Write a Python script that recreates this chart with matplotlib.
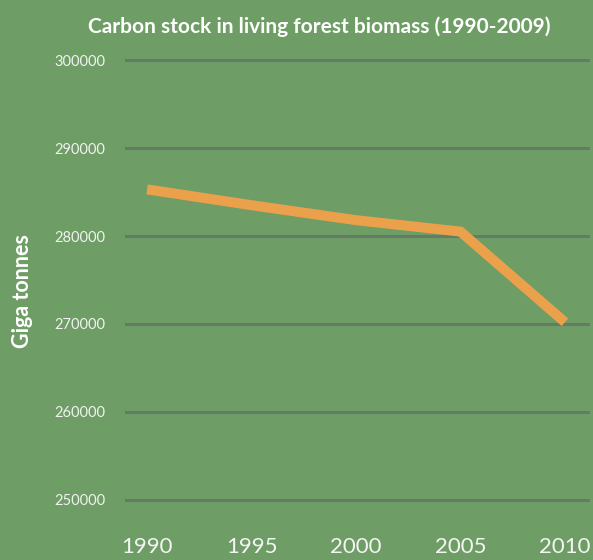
import matplotlib
matplotlib.use("Agg")
import matplotlib.pyplot as plt

# data
years = [1990, 1995, 2000, 2005, 2010]
carbon_stock = [285300, 283500, 281800, 280500, 270200]
y_ticks = [250000, 260000, 270000, 280000, 290000, 300000]
x_ticks = [1990, 1995, 2000, 2005, 2010]

BG = "#6E9D65"
GRID = "#657A68"
LINE = "#EBA14C"
TEXT = "#FFFFFF"

plt.rcParams["font.family"] = ["Lato", "DejaVu Sans"]

fig = plt.figure(figsize=(5.93, 5.60), dpi=100, facecolor=BG)
ax = fig.add_axes([0.211, 0.1025, 0.784, 0.795])
ax.set_facecolor(BG)

ax.plot(years, carbon_stock, color=LINE, linewidth=7.2, solid_capstyle="butt",
        solid_joinstyle="miter", zorder=3)

ax.set_xlim(1988.95, 2011.2)
ax.set_ylim(249700, 300300)
ax.set_yticks(y_ticks)
ax.set_yticklabels([str(v) for v in y_ticks])
ax.set_xticks(x_ticks)
ax.set_xticklabels([str(v) for v in x_ticks])

ax.grid(True, axis="y", color=GRID, linewidth=2.2, zorder=1)
ax.grid(False, axis="x")
for s in ax.spines.values():
    s.set_visible(False)

ax.tick_params(axis="y", length=0, pad=14, labelsize=10.5, labelcolor="#F2F2F2")
ax.tick_params(axis="x", length=0, pad=25, labelsize=16, labelcolor="#F5F5F5")

ax.set_ylabel("Giga tonnes", color=TEXT, fontsize=15.5, fontweight="bold")
ax.yaxis.set_label_coords(-0.198, 0.475)

fig.text(0.538, 0.952, "Carbon stock in living forest biomass (1990-2009)",
         ha="center", va="center", color=TEXT, fontsize=15, fontweight="bold")

fig.savefig("out.png", dpi=100, facecolor=BG)
